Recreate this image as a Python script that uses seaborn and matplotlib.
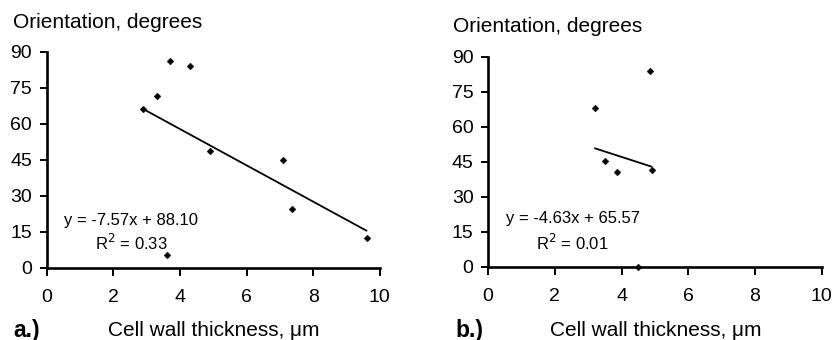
import matplotlib
matplotlib.use("Agg")
import matplotlib.pyplot as plt
import seaborn as sns
import numpy as np
import pandas as pd

# Panel a data
a_thickness = [2.9, 3.3, 3.7, 4.3, 4.9, 7.1, 7.35, 9.6, 3.6]
a_orientation = [66, 71.5, 86, 84, 48.5, 45, 24.5, 12.5, 5.5]
a_slope, a_intercept, a_r2 = -7.57, 88.10, 0.33

# Panel b data
b_thickness = [3.2, 3.5, 3.85, 4.85, 4.9, 4.5]
b_orientation = [68, 45.5, 40.5, 84, 41.5, 0]
b_slope, b_intercept, b_r2 = -4.63, 65.57, 0.01

x_ticks = [0, 2, 4, 6, 8, 10]
y_ticks = [0, 15, 30, 45, 60, 75, 90]
y_label = "Orientation, degrees"
x_label = "Cell wall thickness, \u03bcm"
panel_labels = ["a.)", "b.)"]

sns.set_theme(style="white")
plt.rcParams['font.family'] = ['Liberation Sans', 'DejaVu Sans']
plt.rcParams['text.color'] = 'black'
plt.rcParams['axes.labelcolor'] = 'black'
plt.rcParams['xtick.color'] = 'black'
plt.rcParams['ytick.color'] = 'black'

fig = plt.figure(figsize=(8.33, 3.4), dpi=100)
ax_a = fig.add_axes([0.056, 0.2126, 0.400, 0.635])
ax_b = fig.add_axes([0.586, 0.2156, 0.4004, 0.6176])

panels = [
    (ax_a, a_thickness, a_orientation, a_slope, a_intercept, a_r2),
    (ax_b, b_thickness, b_orientation, b_slope, b_intercept, b_r2),
]

for ax, xs, ys, m, c, r2 in panels:
    df = pd.DataFrame({"x": xs, "y": ys})
    xf = np.array([min(xs), max(xs)]) if ax is ax_a else np.array([3.2, 4.9])
    fit = pd.DataFrame({"x": xf, "y": m * xf + c})
    sns.lineplot(data=fit, x="x", y="y", ax=ax, color="black", linewidth=1.3)
    sns.scatterplot(data=df, x="x", y="y", ax=ax, marker="D", s=12,
                    color="black", edgecolor="black", linewidth=0.3,
                    zorder=5, clip_on=False)
    ax.set_xlim(0, 10)
    ax.set_ylim(0, 90)
    ax.set_xticks(x_ticks)
    ax.set_yticks(y_ticks)
    ax.set_xlabel("")
    ax.set_ylabel("")
    for s in ["top", "right"]:
        ax.spines[s].set_visible(False)
    for s in ["left", "bottom"]:
        ax.spines[s].set_color("black")
        ax.spines[s].set_linewidth(1.9)
    ax.tick_params(axis="y", direction="out", length=5, width=1.4,
                   color="black", labelcolor="black", labelsize=14, pad=5.5,
                   left=True)
    ax.tick_params(axis="x", direction="out", length=6, width=1.4,
                   color="black", labelcolor="black", labelsize=14, pad=9,
                   bottom=True)
    ax.patch.set_alpha(0)

# Titles / labels
fig.text(12.7 / 833, 1 - 22.7 / 340, y_label, fontsize=15, va="center", ha="left")
fig.text(453.3 / 833, 1 - 26.7 / 340, y_label, fontsize=15, va="center", ha="left")
fig.text(13 / 833, 1 - 330 / 340, panel_labels[0], fontsize=16.5, fontweight="bold",
         va="center", ha="left")
fig.text(455 / 833, 1 - 330 / 340, panel_labels[1], fontsize=16.5, fontweight="bold",
         va="center", ha="left")
fig.text(214 / 833, 1 - 330 / 340, x_label, fontsize=15, va="center", ha="center")
fig.text(656 / 833, 1 - 330 / 340, x_label, fontsize=15, va="center", ha="center")

# Fit equations
def eq(m, c):
    return f"y = {m:.2f}x + {c:.2f}"

fig.text(131 / 833, 1 - 220 / 340, eq(a_slope, a_intercept), fontsize=12,
         va="center", ha="center")
fig.text(131 / 833, 1 - 242.7 / 340, f"R$^2$ = {a_r2:.2f}", fontsize=12,
         va="center", ha="center")
fig.text(572.5 / 833, 1 - 218.3 / 340, eq(b_slope, b_intercept), fontsize=12,
         va="center", ha="center")
fig.text(572 / 833, 1 - 242.7 / 340, f"R$^2$ = {b_r2:.2f}", fontsize=12,
         va="center", ha="center")

fig.savefig("out.png", dpi=100)
